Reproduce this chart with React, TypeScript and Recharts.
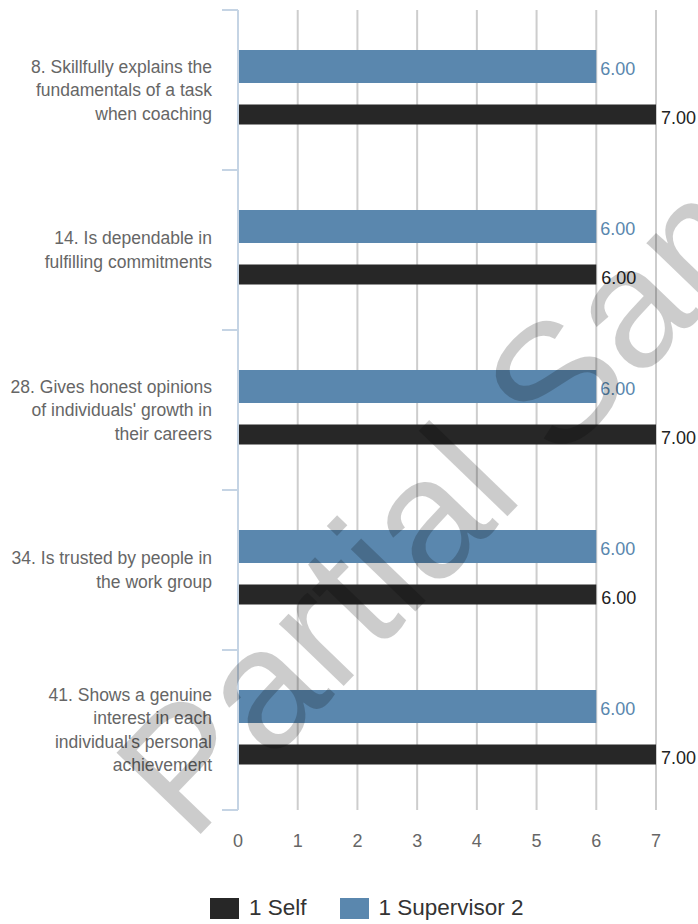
import React from "react";
import {
  BarChart,
  Bar,
  XAxis,
  YAxis,
  CartesianGrid,
  LabelList,
  Legend,
  Rectangle,
} from "recharts";

// Survey items, one per row (line breaks are where the label wraps)
const categories = [
  "8. Skillfully explains the\nfundamentals of a task\nwhen coaching",
  "14. Is dependable in\nfulfilling commitments",
  "28. Gives honest opinions\nof individuals' growth in\ntheir careers",
  "34. Is trusted by people in\nthe work group",
  "41. Shows a genuine\ninterest in each\nindividual's personal\nachievement",
];

const supervisorScores = [6, 6, 6, 6, 6];
const selfScores = [7, 6, 7, 6, 7];
const xTicks = [0, 1, 2, 3, 4, 5, 6, 7];

const data = categories.map((name, i) => ({
  name,
  supervisor: supervisorScores[i],
  self: selfScores[i],
}));

const BLUE = "#5a87ae";
const BLACK = "#272727";
const AXIS_BLUE = "#c5d4e4";
const FONT = "'Liberation Sans', Arial, Helvetica, sans-serif";

const LABEL_GAP = 26;
const TICK_LEN = 16;
const LINE_HEIGHT = 23.5;

// Category label plus the small marks between categories on the axis
function CategoryTick(props: any) {
  const { x, y, payload, index, visibleTicksCount } = props;
  const half = payload.offset ?? 80;
  const lines = String(payload.value).split("\n");
  const top = y - ((lines.length - 1) * LINE_HEIGHT) / 2;
  const axisX = x + LABEL_GAP;
  return (
    <g>
      <line
        x1={axisX - TICK_LEN}
        x2={axisX}
        y1={y - half}
        y2={y - half}
        stroke={AXIS_BLUE}
        strokeWidth={2}
      />
      {index === visibleTicksCount - 1 && (
        <line
          x1={axisX - TICK_LEN}
          x2={axisX}
          y1={y + half}
          y2={y + half}
          stroke={AXIS_BLUE}
          strokeWidth={2}
        />
      )}
      <text
        x={x}
        y={top}
        textAnchor="end"
        dominantBaseline="central"
        fill="#666"
        fontSize={17.5}
      >
        {lines.map((line, i) => (
          <tspan key={i} x={x} y={top + i * LINE_HEIGHT}>
            {line}
          </tspan>
        ))}
      </text>
    </g>
  );
}

// Self bars are drawn thinner than the slot they sit in
function SlimBar(props: any) {
  const { x, y, width, height, fill } = props;
  const thick = height * 0.6;
  return (
    <Rectangle
      x={x}
      y={y + (height - thick) / 2}
      width={width}
      height={thick}
      fill={fill}
    />
  );
}

function LegendContent() {
  const items = [
    { label: "1 Self", color: BLACK },
    { label: "1 Supervisor 2", color: BLUE },
  ];
  return (
    <div
      style={{
        display: "flex",
        alignItems: "center",
        height: 40,
        paddingLeft: 210,
        paddingTop: 8,
        boxSizing: "border-box",
        fontSize: 22.5,
        color: "#333",
      }}
    >
      {items.map((it) => (
        <div
          key={it.label}
          style={{ display: "flex", alignItems: "center", marginRight: 33 }}
        >
          <span
            style={{
              display: "inline-block",
              width: 29,
              height: 21,
              background: it.color,
              marginRight: 10,
            }}
          />
          <span>{it.label}</span>
        </div>
      ))}
    </div>
  );
}

export default function App() {
  const fmt = (v: number) => v.toFixed(2);
  return (
    <div
      style={{
        position: "absolute",
        left: 0,
        top: 0,
        width: 698,
        height: 924,
        fontFamily: FONT,
        background: "#fff",
      }}
    >
      <BarChart
        width={698}
        height={924}
        data={data}
        layout="vertical"
        barGap={15}
        margin={{ top: 10, right: 42, bottom: 0, left: 0 }}
      >
        <CartesianGrid horizontal={false} stroke="#cdcdcd" strokeWidth={2} />
        <XAxis
          type="number"
          domain={[0, 7]}
          ticks={xTicks}
          axisLine={false}
          tickLine={false}
          tickSize={0}
          tickMargin={24}
          height={74}
          tick={{ fill: "#666", fontSize: 18 }}
        />
        <YAxis
          type="category"
          dataKey="name"
          width={238}
          interval={0}
          axisLine={{ stroke: AXIS_BLUE, strokeWidth: 2 }}
          tickLine={false}
          tickSize={0}
          tickMargin={LABEL_GAP}
          tick={<CategoryTick />}
        />
        <Legend
          verticalAlign="bottom"
          align="left"
          height={40}
          wrapperStyle={{ left: 0, bottom: 0, width: 698 }}
          content={() => <LegendContent />}
        />
        <Bar
          dataKey="supervisor"
          name="1 Supervisor 2"
          fill={BLUE}
          barSize={33}
          isAnimationActive={false}
        >
          <LabelList
            dataKey="supervisor"
            position="right"
            offset={4}
            formatter={fmt}
            fill={BLUE}
            fontSize={18}
            dy={2}
          />
        </Bar>
        <Bar
          dataKey="self"
          name="1 Self"
          fill={BLACK}
          barSize={33}
          shape={<SlimBar />}
          isAnimationActive={false}
        >
          <LabelList
            dataKey="self"
            position="right"
            offset={5}
            formatter={fmt}
            fill="#222"
            fontSize={18}
            dy={3}
          />
        </Bar>
      </BarChart>
      <svg
        width={698}
        height={924}
        style={{ position: "absolute", left: 0, top: 0, pointerEvents: "none" }}
      >
        <text
          x={191}
          y={844}
          fontSize={170}
          fill="rgba(0,0,0,0.2)"
          transform="rotate(-46 191 844)"
        >
          Partial Sample
        </text>
      </svg>
    </div>
  );
}
